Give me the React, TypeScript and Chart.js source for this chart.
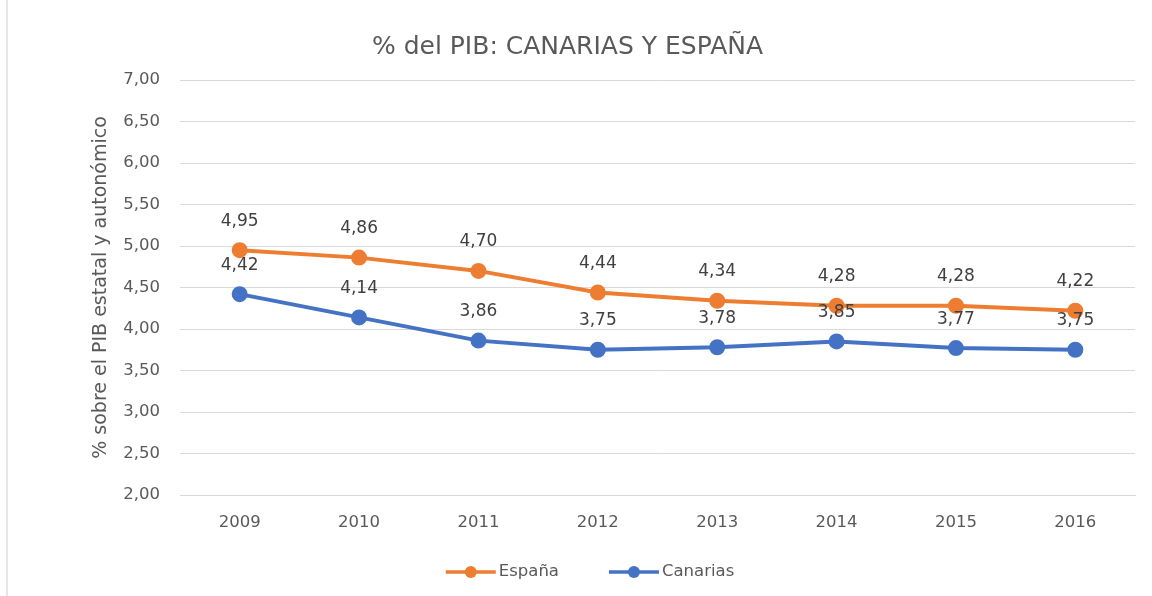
import React, { useEffect, useRef } from "react";
import { Chart, registerables } from "chart.js";

Chart.register(...registerables);

const years = ["2009", "2010", "2011", "2012", "2013", "2014", "2015", "2016"];
const espana = [4.95, 4.86, 4.7, 4.44, 4.34, 4.28, 4.28, 4.22];
const canarias = [4.42, 4.14, 3.86, 3.75, 3.78, 3.85, 3.77, 3.75];
const yTickValues = [2, 2.5, 3, 3.5, 4, 4.5, 5, 5.5, 6, 6.5, 7];
const yTickLabels = ["2,00", "2,50", "3,00", "3,50", "4,00", "4,50", "5,00", "5,50", "6,00", "6,50", "7,00"];

const ORANGE = "#ED7D31";
const BLUE = "#4472C4";
const TEXT = "#595959";
const FONT = "'DejaVu Sans', sans-serif";

const dataLabels = {
  id: "dataLabels",
  afterDatasetsDraw(chart: any) {
    const ctx = chart.ctx;
    ctx.save();
    ctx.font = `17px ${FONT}`;
    ctx.fillStyle = "#404040";
    ctx.textAlign = "center";
    ctx.textBaseline = "middle";
    chart.data.datasets.forEach((ds: any, i: number) => {
      const meta = chart.getDatasetMeta(i);
      meta.data.forEach((pt: any, j: number) => {
        const v = ds.data[j] as number;
        ctx.fillText(v.toFixed(2).replace(".", ","), pt.x, pt.y - 29);
      });
    });
    ctx.restore();
  },
};

const lineLegend = {
  id: "lineLegend",
  afterDraw(chart: any) {
    const ctx = chart.ctx;
    const iconW = 50;
    const textGap = 3;
    const itemGap = 50;
    ctx.save();
    ctx.font = `16.5px ${FONT}`;
    const items = chart.data.datasets.map((ds: any) => ({
      label: ds.label as string,
      color: ds.borderColor as string,
      w: ctx.measureText(ds.label).width,
    }));
    const total =
      items.reduce((s: number, it: any) => s + iconW + textGap + it.w, 0) + itemGap * (items.length - 1);
    const y = 572;
    let x = chart.width / 2 + 14 - total / 2;
    items.forEach((it: any) => {
      ctx.strokeStyle = it.color;
      ctx.lineWidth = 3.5;
      ctx.beginPath();
      ctx.moveTo(x, y);
      ctx.lineTo(x + iconW, y);
      ctx.stroke();
      ctx.fillStyle = it.color;
      ctx.beginPath();
      ctx.arc(x + iconW / 2, y, 6, 0, Math.PI * 2);
      ctx.fill();
      ctx.fillStyle = TEXT;
      ctx.textAlign = "left";
      ctx.textBaseline = "middle";
      ctx.fillText(it.label, x + iconW + textGap, y);
      x += iconW + textGap + it.w + itemGap;
    });
    ctx.restore();
  },
};

export default function App() {
  const ref = useRef<HTMLCanvasElement>(null);
  useEffect(() => {
    const chart = new Chart(ref.current!, {
      type: "line",
      data: {
        labels: years,
        datasets: [
          {
            label: "España",
            data: espana,
            borderColor: ORANGE,
            backgroundColor: ORANGE,
            borderWidth: 4,
            pointRadius: 6,
            pointHoverRadius: 6,
            pointStyle: "circle",
          },
          {
            label: "Canarias",
            data: canarias,
            borderColor: BLUE,
            backgroundColor: BLUE,
            borderWidth: 4,
            pointRadius: 6,
            pointHoverRadius: 6,
            pointStyle: "circle",
          },
        ],
      },
      options: {
        animation: false,
        responsive: false,
        devicePixelRatio: 1,
        layout: { padding: { left: 0, right: 17, top: 20, bottom: 0 } },
        plugins: {
          title: {
            display: true,
            text: "% del PIB: CANARIAS Y ESPAÑA",
            color: TEXT,
            font: { family: FONT, size: 25, weight: "normal" },
            padding: { top: 12, bottom: 18 },
          },
          legend: { display: false },
          tooltip: { enabled: false },
        },
        scales: {
          x: {
            offset: true,
            grid: { display: false },
            border: { display: true, color: "#D9D9D9" },
            afterFit: (scale: any) => {
              scale.height = 101;
            },
            ticks: { color: TEXT, font: { family: FONT, size: 16.5 }, padding: 10 },
          },
          y: {
            min: 2,
            max: 7,
            afterBuildTicks: (scale: any) => {
              scale.ticks = yTickValues.map((v) => ({ value: v }));
            },
            afterFit: (scale: any) => {
              scale.width = 180;
            },
            grid: { color: "#D9D9D9", drawTicks: false, lineWidth: 1 },
            border: { display: false },
            ticks: {
              color: TEXT,
              font: { family: FONT, size: 16.5 },
              padding: 20,
              callback: (_v: any, i: number) => yTickLabels[i],
            },
            title: {
              display: true,
              text: "% sobre el PIB estatal y autonómico",
              color: TEXT,
              font: { family: FONT, size: 19 },
              padding: { top: 90, bottom: 0 },
            },
          },
        },
      },
      plugins: [dataLabels, lineLegend],
    } as any);
    return () => chart.destroy();
  }, []);
  return (
    <div
      style={{
        position: "fixed",
        left: 0,
        top: 0,
        width: 1152,
        height: 596,
        background: "#fff",
      }}
    >
      <div style={{ position: "absolute", left: 6, top: 0, width: 2, height: 596, background: "#E6E6E6" }} />
      <canvas ref={ref} width={1152} height={596} style={{ position: "absolute", left: 0, top: 0 }} />
    </div>
  );
}
